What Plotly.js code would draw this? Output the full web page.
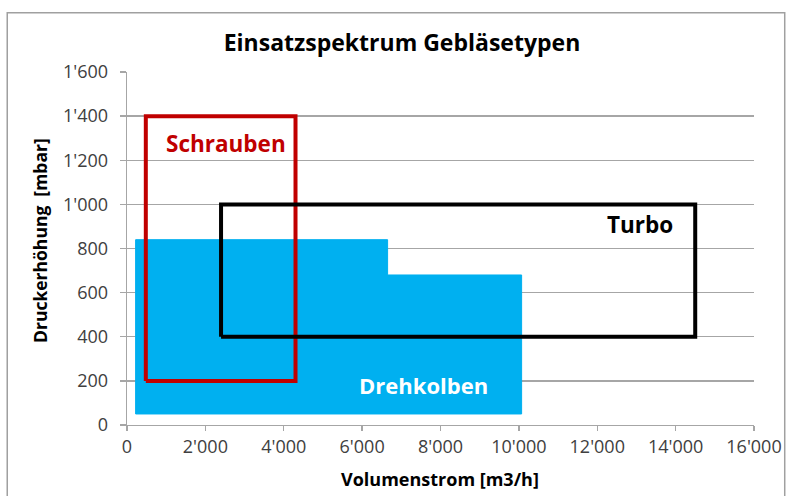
<!DOCTYPE html>
<html>
<head>
<meta charset="utf-8">
<script src="https://cdn.plot.ly/plotly-3.0.1.min.js"></script>
<style>html,body{margin:0;padding:0;background:#fff;}#chart{width:789px;height:496px;}</style>
</head>
<body>
<div id="chart"></div>
<script>
// Drehkolben (rotary lobe) operating range outline
var drehX = [220, 220, 6650, 6650, 10070, 10070, 220];
var drehY = [50, 840, 840, 680, 680, 50, 50];
// Schrauben (screw) operating range
var schrX = [480, 480, 4300, 4300, 480];
var schrY = [200, 1400, 1400, 200, 200];
// Turbo operating range
var turboX = [2400, 2400, 14500, 14500, 2400];
var turboY = [400, 1000, 1000, 400, 400];

var xTickVals = [0, 2000, 4000, 6000, 8000, 10000, 12000, 14000, 16000];
var xTickText = ["0", "2'000", "4'000", "6'000", "8'000", "10'000", "12'000", "14'000", "16'000"];
var yTickVals = [0, 200, 400, 600, 800, 1000, 1200, 1400, 1600];
var yTickText = ["0", "200", "400", "600", "800", "1'000", "1'200", "1'400", "1'600"];

var labels = ["Schrauben", "Turbo", "Drehkolben"];
var labelX = [2525, 13090, 7560];
var labelY = [1278, 907, 181];

var FONT = "'Open Sans', 'Noto Sans', sans-serif";

var traces = [
  {x: drehX, y: drehY, type: 'scatter', mode: 'lines', fill: 'toself',
   fillcolor: '#00b0f0', line: {color: '#00b0f0', width: 1}, hoverinfo: 'skip'},
  {x: schrX, y: schrY, type: 'scatter', mode: 'lines',
   line: {color: '#c00000', width: 4}, hoverinfo: 'skip'},
  {x: turboX, y: turboY, type: 'scatter', mode: 'lines',
   line: {color: '#000000', width: 4}, hoverinfo: 'skip'}
];

var layout = {
  width: 789, height: 496,
  margin: {l: 127, r: 35, t: 72, b: 71},
  paper_bgcolor: '#ffffff', plot_bgcolor: '#ffffff',
  showlegend: false,
  font: {family: FONT, color: '#404040', size: 16},
  title: {text: '<b>Einsatzspektrum Gebläsetypen</b>', x: 402/789, xanchor: 'center',
          y: 1 - 43/496, yanchor: 'middle', font: {family: FONT, size: 23, color: '#000000'}},
  xaxis: {range: [0, 16000], tickvals: xTickVals, ticktext: xTickText,
          showgrid: false, zeroline: false, showline: true, linecolor: '#a6a6a6', linewidth: 1.3,
          ticks: 'outside', ticklen: 5, tickcolor: '#a6a6a6', tickwidth: 1.3,
          tickfont: {family: FONT, size: 18, color: '#404040'}},
  yaxis: {range: [0, 1600], tickvals: yTickVals, ticktext: yTickText,
          showgrid: true, gridcolor: '#a6a6a6', gridwidth: 1.3,
          zeroline: false, showline: true, linecolor: '#a6a6a6', linewidth: 1.3,
          ticks: 'outside', ticklen: 6, tickcolor: '#a6a6a6', tickwidth: 1.3,
          ticklabelstandoff: 8,
          tickfont: {family: FONT, size: 18, color: '#404040'}},
  annotations: [
    {x: labelX[0], y: labelY[0], text: '<b>' + labels[0] + '</b>', showarrow: false,
     font: {family: FONT, size: 22.5, color: '#c00000'}},
    {x: labelX[1], y: labelY[1], text: '<b>' + labels[1] + '</b>', showarrow: false,
     font: {family: FONT, size: 22.5, color: '#000000'}},
    {x: labelX[2], y: labelY[2], text: '<b>' + labels[2] + '</b>', showarrow: false,
     font: {family: FONT, size: 22, color: '#ffffff'}},
    {xref: 'paper', yref: 'paper', x: (440 - 127) / 627, y: -(479 - 425) / 353,
     xanchor: 'center', yanchor: 'middle', showarrow: false,
     text: '<b>Volumenstrom [m3/h]</b>', font: {family: FONT, size: 18, color: '#000000'}},
    {xref: 'paper', yref: 'paper', x: -(127 - 40) / 627, y: (425 - 241) / 353,
     xanchor: 'center', yanchor: 'middle', showarrow: false, textangle: -90,
     text: '<b>Druckerhöhung&nbsp; [mbar]</b>', font: {family: FONT, size: 17.5, color: '#000000'}}
  ],
  shapes: [
    {type: 'rect', xref: 'paper', yref: 'paper',
     x0: -0.191, x1: 1.049, y0: -0.25, y1: 1.168,
     line: {color: '#a0a0a0', width: 1.5}, fillcolor: 'rgba(0,0,0,0)'}
  ]
};

Plotly.newPlot('chart', traces, layout, {displayModeBar: false, staticPlot: true});
</script>
</body>
</html>
